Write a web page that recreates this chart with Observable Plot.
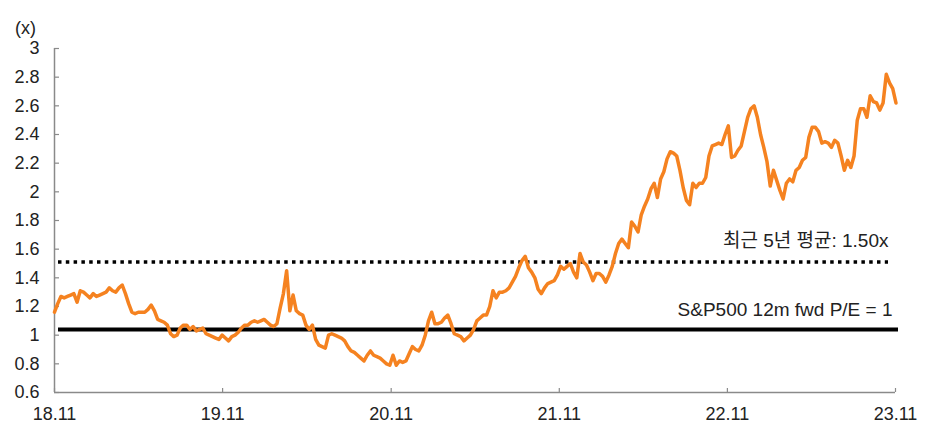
<!DOCTYPE html>
<html><head><meta charset="utf-8">
<script src="https://cdn.jsdelivr.net/npm/d3@7"></script>
<script src="https://cdn.jsdelivr.net/npm/@observablehq/plot@0.6"></script>
<style>html,body{margin:0;padding:0;background:#fff} svg{display:block}</style>
</head><body><div id="chart"></div>
<script>
// Weekly relative P/E (x), starting 2018-11-01
const startDate = "2018-11-01";
const stepDays = 7;
const ratio = [
1.16,1.22,1.27,1.26,1.27,1.28,1.29,1.23,1.31,1.30,
1.28,1.26,1.29,1.27,1.28,1.29,1.30,1.33,1.31,1.30,
1.33,1.35,1.29,1.22,1.16,1.15,1.16,1.16,1.16,1.18,
1.21,1.17,1.11,1.10,1.09,1.07,1.01,0.99,1.00,1.05,
1.07,1.07,1.04,1.06,1.03,1.04,1.05,1.01,1.00,0.99,
0.98,0.97,1.00,0.98,0.96,0.99,1.00,1.02,1.05,1.07,
1.07,1.09,1.10,1.09,1.10,1.11,1.09,1.07,1.06,1.08,
1.19,1.29,1.45,1.17,1.28,1.17,1.15,1.14,1.07,1.04,
1.07,0.97,0.93,0.92,0.91,1.00,1.01,1.00,0.99,0.98,
0.96,0.92,0.89,0.88,0.86,0.84,0.82,0.86,0.89,0.86,
0.85,0.84,0.82,0.80,0.79,0.86,0.79,0.82,0.81,0.82,
0.87,0.92,0.90,0.89,0.93,1.00,1.10,1.16,1.08,1.08,
1.09,1.12,1.14,1.08,1.01,1.00,0.99,0.96,0.98,1.00,
1.04,1.10,1.12,1.14,1.14,1.20,1.31,1.26,1.30,1.30,
1.31,1.33,1.37,1.41,1.47,1.52,1.55,1.47,1.44,1.40,
1.32,1.29,1.33,1.36,1.37,1.38,1.42,1.48,1.46,1.48,
1.50,1.44,1.40,1.57,1.51,1.49,1.44,1.38,1.43,1.43,
1.41,1.37,1.42,1.48,1.57,1.64,1.67,1.64,1.61,1.79,
1.76,1.72,1.84,1.90,1.95,2.02,2.06,1.96,2.09,2.14,
2.23,2.28,2.27,2.25,2.15,2.03,1.94,1.91,2.06,2.03,
2.06,2.06,2.10,2.25,2.32,2.33,2.34,2.33,2.40,2.46,
2.24,2.25,2.29,2.32,2.42,2.52,2.58,2.60,2.52,2.40,
2.31,2.21,2.04,2.15,2.08,2.01,1.95,2.06,2.09,2.07,
2.15,2.17,2.22,2.24,2.38,2.45,2.45,2.42,2.34,2.35,
2.34,2.31,2.36,2.34,2.25,2.15,2.22,2.17,2.25,2.50,
2.58,2.58,2.52,2.67,2.63,2.62,2.57,2.62,2.82,2.76,
2.72,2.62
];
const avg5y = 1.51;
const parity = 1.04;
const avgLabel = "최근 5년 평균: 1.50x";
const parityLabel = "S&P500 12m fwd P/E = 1";
const unitLabel = "(x)";
const yTicks = [0.6,0.8,1,1.2,1.4,1.6,1.8,2,2.2,2.4,2.6,2.8,3];
const yTickLabels = ["0.6","0.8","1","1.2","1.4","1.6","1.8","2","2.2","2.4","2.6","2.8","3"];
const xTickDates = ["2018-11-01","2019-11-01","2020-11-01","2021-11-01","2022-11-01","2023-11-01"];
const xTickLabels = ["18.11","19.11","20.11","21.11","22.11","23.11"];

const W = 930, H = 424;
const M = {top: 48, right: 35, bottom: 32, left: 54};
const frameW = W - M.left - M.right, frameH = H - M.top - M.bottom;
const t0 = new Date(startDate);
const data = ratio.map((v, i) => ({date: d3.utcDay.offset(t0, i * stepDays), v}));
const xDates = xTickDates.map(d => new Date(d));
const axisGray = "#8a8a8a";
const textColor = "#222";
const FS = 18;
const FSA = 19;

const chart = Plot.plot({
  width: W, height: H,
  marginTop: M.top, marginRight: M.right, marginBottom: M.bottom, marginLeft: M.left,
  style: {fontFamily: "'Liberation Sans', 'Noto Sans CJK KR', sans-serif", fontSize: FS + "px", color: textColor, background: "#fff"},
  x: {type: "utc", domain: [xDates[0], xDates[xDates.length - 1]]},
  y: {domain: [0.6, 3]},
  marks: [
    Plot.ruleX([xDates[0]], {stroke: axisGray, strokeWidth: 1.5}),
    Plot.ruleY([0.6], {stroke: axisGray, strokeWidth: 1.5}),
    Plot.ruleY(yTicks, {stroke: axisGray, strokeWidth: 1.2, insetRight: frameW - 5}),
    Plot.ruleX(xDates, {stroke: axisGray, strokeWidth: 1.2, insetTop: frameH - 4}),
    Plot.axisY(yTicks, {tickSize: 0, tickPadding: 15, fontSize: FS, tickFormat: d => yTickLabels[yTicks.indexOf(d)], label: null}),
    Plot.axisX(xDates, {tickSize: 0, tickPadding: 15, fontSize: FS, tickFormat: d => xTickLabels[xDates.findIndex(t => +t === +d)], label: null}),
    Plot.ruleY([avg5y], {stroke: "#000", strokeWidth: 3.5, strokeDasharray: "3.5,4.3", insetLeft: 4, insetRight: 7}),
    Plot.ruleY([parity], {stroke: "#000", strokeWidth: 4, insetLeft: 4, insetRight: -3}),
    Plot.line(data, {x: "date", y: "v", stroke: "#F58220", strokeWidth: 3.5, strokeLinejoin: "round"}),
    Plot.text([avgLabel], {frameAnchor: "right", y: [avg5y], text: d => d, textAnchor: "end", dx: -7, dy: -21, fill: textColor, fontSize: FSA}),
    Plot.text([parityLabel], {frameAnchor: "right", y: [parity], text: d => d, textAnchor: "end", dx: -3, dy: -20, fill: textColor, fontSize: FSA}),
    Plot.text([unitLabel], {frameAnchor: "top-left", text: d => d, textAnchor: "middle", dx: -29, dy: -27, fill: textColor, fontSize: FS})
  ]
});
document.getElementById("chart").appendChild(chart);
</script>
</body></html>
